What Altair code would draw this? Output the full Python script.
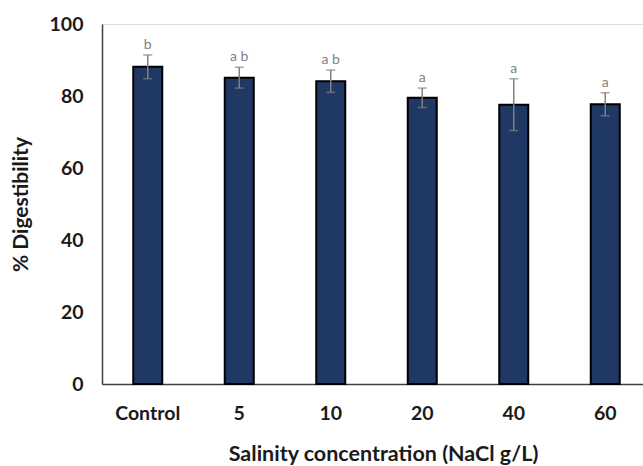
import altair as alt
import pandas as pd

categories = ["Control", "5", "10", "20", "40", "60"]
means = [88.1, 85.1, 84.1, 79.5, 77.6, 77.7]
errors = [3.3, 2.9, 3.1, 2.7, 7.2, 3.2]
letters = ["b", "a b", "a b", "a", "a", "a"]

df = pd.DataFrame({
    "cat": categories,
    "mean": means,
    "err": errors,
    "letter": letters,
})
df["lo"] = df["mean"] - df["err"]
df["hi"] = df["mean"] + df["err"]

FONT = "Lato"

x = alt.X(
    "cat:N",
    sort=categories,
    scale=alt.Scale(range=[0, 549], paddingInner=0, paddingOuter=0),
    axis=alt.Axis(
        title="Salinity concentration (NaCl g/L)",
        labelAngle=0,
        labelFont=FONT, labelFontSize=19.5, labelFontWeight="bold", labelColor="#1a1a1a",
        labelPadding=20, ticks=False,
        titleFont=FONT, titleFontSize=21.5, titleFontWeight="bold", titleColor="#1a1a1a",
        titlePadding=21, titleX=281, titleAnchor="middle",
        domainColor="#404040", domainWidth=1.5,
    ),
)

y_axis = alt.Axis(
    title="% Digestibility",
    values=[0, 20, 40, 60, 80, 100],
    grid=False, ticks=False,
    labelFont=FONT, labelFontSize=19.5, labelFontWeight="bold", labelColor="#1a1a1a",
    labelPadding=19,
    titleFont=FONT, titleFontSize=21, titleFontWeight="bold", titleColor="#1a1a1a",
    titlePadding=18,
    domainColor="#404040", domainWidth=1.5,
)
yscale = alt.Scale(domain=[0, 100], nice=False)

base = alt.Chart(df)

bars = base.mark_bar(width=29, color="#1f3864", stroke="#000000", strokeWidth=2).encode(
    x=x,
    y=alt.Y("mean:Q", scale=yscale, axis=y_axis),
)

rules = base.mark_rule(color="#808080", strokeWidth=1.5).encode(
    x=alt.X("cat:N", sort=categories),
    y="lo:Q",
    y2="hi:Q",
)

caps_hi = base.mark_tick(color="#808080", size=9, thickness=1.5, orient="horizontal").encode(
    x=alt.X("cat:N", sort=categories),
    y="hi:Q",
)
caps_lo = base.mark_tick(color="#808080", size=9, thickness=1.5, orient="horizontal").encode(
    x=alt.X("cat:N", sort=categories),
    y="lo:Q",
)

labels = base.mark_text(font=FONT, fontSize=14, color="#7f7f7f", baseline="alphabetic", dy=-6).encode(
    x=alt.X("cat:N", sort=categories),
    y="hi:Q",
    text="letter:N",
)

chart = alt.layer(bars, rules, caps_hi, caps_lo, labels).properties(
    width=541,
    height=360,
    autosize=alt.AutoSizeParams(type="none"),
    padding={"left": 102, "top": 24, "right": 0, "bottom": 82},
).configure_view(stroke=None).configure(background="white")

chart.save("out.html", embed_options={"renderer": "svg", "actions": False})
